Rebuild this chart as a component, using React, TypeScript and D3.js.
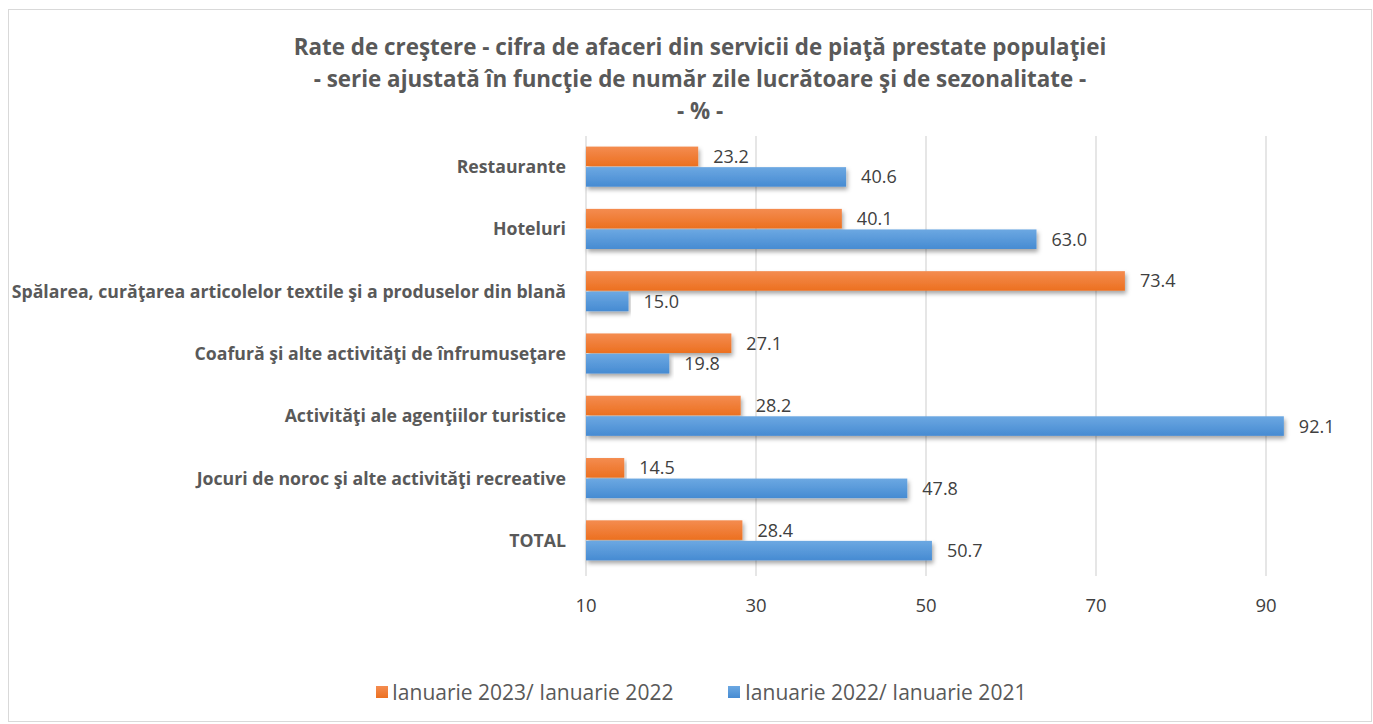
import React from "react";
import * as d3 from "d3";

const categories = [
  "Restaurante",
  "Hoteluri",
  "Spălarea, curăţarea articolelor textile şi a produselor din blană",
  "Coafură şi alte activităţi de înfrumuseţare",
  "Activităţi ale agenţiilor turistice",
  "Jocuri de noroc şi alte activităţi recreative",
  "TOTAL",
];
const series2023 = [23.2, 40.1, 73.4, 27.1, 28.2, 14.5, 28.4];
const series2022 = [40.6, 63.0, 15.0, 19.8, 92.1, 47.8, 50.7];
const seriesNames = ["Ianuarie 2023/ Ianuarie 2022", "Ianuarie 2022/ Ianuarie 2021"];
const ticks = [10, 30, 50, 70, 90];
const titleLines = [
  "Rate de creştere - cifra de afaceri din servicii de piaţă prestate populaţiei",
  "- serie ajustată în funcţie de număr zile lucrătoare şi de sezonalitate -",
  "- % -",
];

const W = 1373;
const H = 724;
const FONT = "'Open Sans', Lato, sans-serif";

export default function App() {
  const x = d3.scaleLinear().domain([10, 100]).range([586, 1351]);
  const y = d3.scaleBand<string>().domain(categories).range([136, 572]).paddingInner(0.34).paddingOuter(0.17);
  const bh = y.bandwidth() / 2;
  return (
    <svg width={W} height={H} style={{ position: "absolute", left: 0, top: 0 }}>
      <defs>
        <linearGradient id="gOr" x1="0" y1="0" x2="0" y2="1">
          <stop offset="0" stopColor="#F48C50" />
          <stop offset="1" stopColor="#EC7020" />
        </linearGradient>
        <linearGradient id="gBl" x1="0" y1="0" x2="0" y2="1">
          <stop offset="0" stopColor="#6CA8E2" />
          <stop offset="1" stopColor="#468BD2" />
        </linearGradient>
        <filter id="sh" x="-5%" y="-50%" width="110%" height="200%">
          <feDropShadow dx="1.5" dy="3" stdDeviation="2" floodColor="#000" floodOpacity="0.35" />
        </filter>
      </defs>
      <rect x={0} y={0} width={W} height={H} fill="#fff" />
      <rect x={8.5} y={9.5} width={W - 10} height={H - 12} fill="#fff" stroke="#D9D9D9" strokeWidth={1} />
      {titleLines.map((t, i) => (
        <text key={i} x={700} y={55 + i * 32} textAnchor="middle" fontFamily={FONT} fontWeight="bold" fontSize={22.4} fill="#595959">
          {t}
        </text>
      ))}
      {ticks.map((t) => (
        <g key={t}>
          <line x1={x(t)} x2={x(t)} y1={136} y2={576} stroke="#D9D9D9" strokeWidth={1.3} />
          <text x={x(t)} y={612} textAnchor="middle" fontFamily={FONT} fontSize={18.5} fill="#404040">
            {t}
          </text>
        </g>
      ))}
      {categories.map((c, i) => {
        const y0 = y(c)!;
        return (
          <g key={c}>
            <text x={566} y={y0 + bh + 6} textAnchor="end" fontFamily={FONT} fontWeight="bold" fontSize={17.7} fill="#595959">
              {c}
            </text>
            <rect x={x(10)} y={y0} width={x(series2023[i]) - x(10)} height={bh - 1} fill="url(#gOr)" filter="url(#sh)" />
            <rect x={x(10)} y={y0 + bh} width={x(series2022[i]) - x(10)} height={bh - 1} fill="url(#gBl)" filter="url(#sh)" />
            <text x={x(series2023[i]) + 15} y={y0 + bh / 2 + 6} fontFamily={FONT} fontSize={18} fill="#404040">
              {series2023[i].toFixed(1)}
            </text>
            <text x={x(series2022[i]) + 15} y={y0 + bh * 1.5 + 6} fontFamily={FONT} fontSize={18} fill="#404040">
              {series2022[i].toFixed(1)}
            </text>
          </g>
        );
      })}
      <g>
        <rect x={376} y={686} width={12} height={12} fill="url(#gOr)" />
        <text x={392} y={700} fontFamily={FONT} fontSize={21} fill="#595959">{seriesNames[0]}</text>
        <rect x={728} y={686} width={12} height={12} fill="url(#gBl)" />
        <text x={745} y={700} fontFamily={FONT} fontSize={21} fill="#595959">{seriesNames[1]}</text>
      </g>
    </svg>
  );
}
